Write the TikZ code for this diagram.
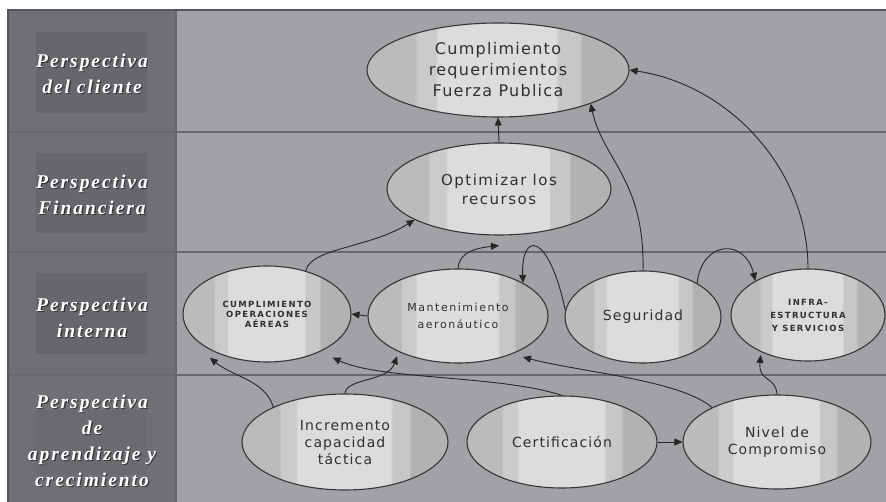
\documentclass[tikz,border=0pt]{standalone}
\usepackage{fontspec}
\setmainfont{DejaVu Sans}
\newfontfamily\lblfont{Liberation Serif}[LetterSpace=10]
\newfontfamily\elfontA{DejaVu Sans}[LetterSpace=8]
\newfontfamily\elfontB{DejaVu Sans}[LetterSpace=10]
\newfontfamily\elfontM{DejaVu Sans}[LetterSpace=14]
\newfontfamily\elfontC{DejaVu Sans}[LetterSpace=16]
\usetikzlibrary{shapes.geometric,arrows.meta}

\definecolor{leftbg}{HTML}{707074}
\definecolor{lblbox}{HTML}{67676B}
\definecolor{lblboxfaint}{HTML}{6B6B6F}
\definecolor{rightbg}{HTML}{A2A2A6}
\definecolor{divline}{HTML}{68686C}
\definecolor{frameline}{HTML}{55555A}
\definecolor{bandA}{HTML}{BBBBBB}
\definecolor{bandB}{HTML}{CBCBCB}
\definecolor{bandC}{HTML}{DCDCDC}
\definecolor{bandD}{HTML}{C7C7C7}
\definecolor{bandE}{HTML}{B2B2B2}
\definecolor{elborder}{HTML}{363636}
\definecolor{edgecol}{HTML}{262626}
\definecolor{eltext}{HTML}{303030}

\pgfdeclarehorizontalshading{bands}{100bp}{color(0bp)=(bandA); color(25bp)=(bandA); color(34bp)=(bandA); color(34.6bp)=(bandB); color(38bp)=(bandB); color(38.6bp)=(bandC); color(61bp)=(bandC); color(61.6bp)=(bandD); color(65.5bp)=(bandD); color(66.1bp)=(bandE); color(100bp)=(bandE)}

\tikzset{
  el/.style={ellipse, draw=elborder, line width=1.1pt, shading=bands, inner sep=0pt,
    align=center, text=eltext},
  tA/.style={font=\elfontA\fontsize{14}{17}\selectfont},
  tB/.style={font=\elfontB\fontsize{15}{19}\selectfont},
  tBig/.style={font=\elfontA\fontsize{16}{21}\selectfont},
  tM/.style={font=\elfontM\fontsize{11}{17}\selectfont},
  tC/.style={font=\elfontC\bfseries\fontsize{8.5}{10}\selectfont},
  tI/.style={font=\elfontC\bfseries\fontsize{8.5}{13}\selectfont},
  conn/.style={draw=edgecol, line width=0.9pt, -{Triangle[length=8pt,width=7pt]}},
  lbl/.style={align=center, text=white, font=\lblfont\bfseries\itshape\fontsize{19.5}{26}\selectfont},
  lblsh/.style={lbl, text=black, opacity=0.5},
}

\begin{document}
\begin{tikzpicture}[x=1pt,y=-1pt]
\useasboundingbox (0,0) rectangle (886,502);
\fill[white] (0,0) rectangle (886,502);
% panels
\fill[rightbg] (8,10) rectangle (886,502);
\fill[leftbg] (8,10) rectangle (176,502);
% label boxes
\fill[lblbox] (36,32) rectangle (147,113);
\fill[lblbox] (36,153) rectangle (147,233);
\fill[lblbox] (36,273) rectangle (147,354);
\fill[lblboxfaint] (36,410) rectangle (147,475);
% dividers
\draw[divline, line width=2pt] (8,132) -- (886,132);
\draw[divline, line width=2pt] (8,252) -- (886,252);
\draw[divline, line width=2pt] (8,375) -- (886,375);
\draw[divline, line width=2pt] (176,10) -- (176,502);
\draw[frameline, line width=2.5pt] (8,502) -- (8,10) -- (886,10);

% left labels
\node[lblsh] (l1s) at (93.2,75.2) {Perspectiva\\del cliente};
\node[lbl] (l1) at (92,74) {Perspectiva\\del cliente};
\node[lblsh] (l2s) at (93.2,196.2) {Perspectiva\\Financiera};
\node[lbl] (l2) at (92,195) {Perspectiva\\Financiera};
\node[lblsh] (l3s) at (93.2,319.2) {Perspectiva\\interna};
\node[lbl] (l3) at (92,318) {Perspectiva\\interna};
\node[lblsh] (l4s) at (93.2,442.2) {Perspectiva\\de\\aprendizaje y\\crecimiento};
\node[lbl] (l4) at (92,441) {Perspectiva\\de\\aprendizaje y\\crecimiento};

% ellipses
\node[el, tBig, minimum width=262pt, minimum height=94pt] (c1) at (498,70) {Cumplimiento\\requerimientos\\Fuerza Publica};
\node[el, tB, minimum width=224pt, minimum height=92pt] (opt) at (499,189) {Optimizar los\\recursos};
\node[el, tC, minimum width=168pt, minimum height=96pt] (cop) at (267,314) {CUMPLIMIENTO\\OPERACIONES\\AÉREAS};
\node[el, tM, minimum width=180pt, minimum height=94pt] (man) at (458,316) {Mantenimiento\\aeronáutico};
\node[el, tA, minimum width=156pt, minimum height=92pt] (seg) at (643,317) {Seguridad};
\node[el, tI, minimum width=154pt, minimum height=92pt] (inf) at (808,315) {INFRA-\\ESTRUCTURA\\Y SERVICIOS};
\node[el, tA, minimum width=206pt, minimum height=96pt] (inc) at (345,442) {Incremento\\capacidad\\táctica};
\node[el, tA, minimum width=190pt, minimum height=92pt] (cert) at (562,442) {Certificación};
\node[el, tA, minimum width=188pt, minimum height=94pt] (niv) at (777,442) {Nivel de\\Compromiso};

% connectors
\draw[conn] (opt.north) -- (c1.south);
\draw[conn] (seg.north) .. controls (645,180) and (603,160) .. (c1.-20);
\draw[conn] (inf.north) .. controls (808,170) and (730,85) .. (c1.east);
\draw[conn] (cop.48) .. controls (310,248) and (370,248) .. (opt.200);
\draw[conn] (man.north) .. controls (459,252) and (476,248) .. ([yshift=-10pt]opt.south);
\draw[conn] (seg.175) .. controls (548,230) and (521,232) .. (man.27);
\draw[conn] (seg.32) .. controls (702,240) and (745,238) .. (inf.147);
\draw[conn] (man.west) -- (cop.east);
\draw[conn] (inc.154) .. controls (265,380) and (235,378) .. ([yshift=-8pt]cop.212);
\draw[conn] (inc.north) .. controls (346,378) and (388,382) .. ([yshift=-5pt]man.210);
\draw[conn] (cert.north) .. controls (500,375) and (380,380) .. ([yshift=-13pt]cop.-25);
\draw[conn] (niv.152) .. controls (680,380) and (580,372) .. ([yshift=-8pt]man.-27);
\draw[conn] (niv.north) .. controls (776,376) and (758,382) .. ([yshift=-3pt]inf.218);
\draw[conn] (cert.east) -- (niv.west);
\end{tikzpicture}
\end{document}
